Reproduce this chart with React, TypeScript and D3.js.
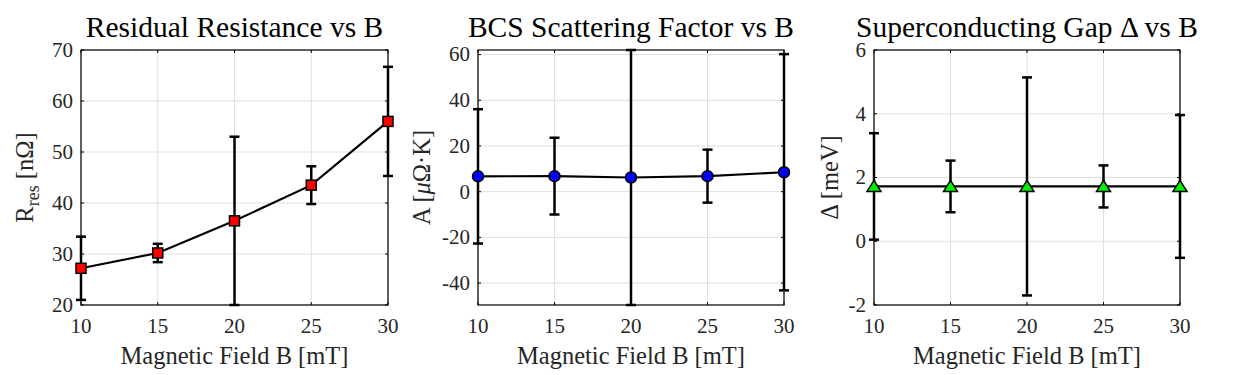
import React from 'react'
import * as d3 from 'd3'

// field values (x) and the three fitted quantities with their error bars
const fieldB = [10, 15, 20, 25, 30]
const xTicks = [10, 15, 20, 25, 30]

const rRes = [27.2, 30.2, 36.5, 43.5, 56.0]
const rResErr = [6.2, 1.8, 16.5, 3.7, 10.7]
const rResTicks = [20, 30, 40, 50, 60, 70]

const scatterA = [6.7, 6.8, 6.2, 6.8, 8.5]
const scatterAErr = [29.4, 16.8, 55.8, 11.6, 51.7]
const scatterATicks = [-40, -20, 0, 20, 40, 60]

const gapDelta = [1.72, 1.72, 1.72, 1.72, 1.72]
const gapDeltaErr = [1.67, 0.81, 3.42, 0.66, 2.24]
const gapTicks = [-2, 0, 2, 4, 6]

const FONT = '"Liberation Serif", "Times New Roman", serif'
const TOP = 50
const BOTTOM = 305

function Marker ({ kind, x, y }) {
  if (kind === 'square') {
    return <rect x={x - 5} y={y - 5} width={10} height={10} fill='#ff0000' stroke='#000' strokeWidth={1.5} />
  }
  if (kind === 'circle') {
    return <circle cx={x} cy={y} r={5.5} fill='#0000ff' stroke='#000' strokeWidth={1.5} />
  }
  const p = d3.path()
  p.moveTo(x, y - 6)
  p.lineTo(x + 7, y + 5)
  p.lineTo(x - 7, y + 5)
  p.closePath()
  return <path d={p.toString()} fill='#00ee00' stroke='#000' strokeWidth={1.5} />
}

function Panel ({ left, width, title, yLabel, labelX, values, errors, yDomain, yTicks, marker }) {
  const x = d3.scaleLinear().domain([10, 30]).range([left, left + width])
  const y = d3.scaleLinear().domain(yDomain).range([BOTTOM, TOP])
  const line = d3.line().x((d, i) => x(fieldB[i])).y(d => y(d))
  const right = left + width
  const cx = left + width / 2
  const cy = (TOP + BOTTOM) / 2

  return (
    <g fontFamily={FONT}>
      {/* grid */}
      {xTicks.map(t => (
        <line key={'gx' + t} x1={x(t)} x2={x(t)} y1={TOP} y2={BOTTOM} stroke='#dfdfdf' strokeWidth={1} />
      ))}
      {yTicks.map(t => (
        <line key={'gy' + t} x1={left} x2={right} y1={y(t)} y2={y(t)} stroke='#dfdfdf' strokeWidth={1} />
      ))}

      {/* box and inward ticks */}
      <rect x={left} y={TOP} width={width} height={BOTTOM - TOP} fill='none' stroke='#000' strokeWidth={1.2} />
      {xTicks.map(t => (
        <g key={'tx' + t}>
          <line x1={x(t)} x2={x(t)} y1={BOTTOM} y2={BOTTOM - 3} stroke='#000' />
          <line x1={x(t)} x2={x(t)} y1={TOP} y2={TOP + 3} stroke='#000' />
          <text x={x(t)} y={BOTTOM + 28} textAnchor='middle' fontSize={21} fill='#262626'>{t}</text>
        </g>
      ))}
      {yTicks.map(t => (
        <g key={'ty' + t}>
          <line x1={left} x2={left + 3} y1={y(t)} y2={y(t)} stroke='#000' />
          <line x1={right} x2={right - 3} y1={y(t)} y2={y(t)} stroke='#000' />
          <text x={left - 8} y={y(t)} dy='0.33em' textAnchor='end' fontSize={21} fill='#262626'>{t}</text>
        </g>
      ))}

      {/* data line, error bars, markers */}
      <path d={line(values)} fill='none' stroke='#000' strokeWidth={2.2} />
      {values.map((v, i) => {
        const px = x(fieldB[i])
        const hi = y(v + errors[i])
        const lo = y(v - errors[i])
        return (
          <g key={'e' + i} stroke='#000' strokeWidth={2.5}>
            <line x1={px} x2={px} y1={hi} y2={lo} />
            <line x1={px - 5} x2={px + 5} y1={hi} y2={hi} />
            <line x1={px - 5} x2={px + 5} y1={lo} y2={lo} />
          </g>
        )
      })}
      {values.map((v, i) => (
        <Marker key={'m' + i} kind={marker} x={x(fieldB[i])} y={y(v)} />
      ))}

      {/* text */}
      <text x={cx} y={37} textAnchor='middle' fontSize={29.5} fill='#000'>{title}</text>
      <text x={cx} y={BOTTOM + 59} textAnchor='middle' fontSize={24.5} fill='#262626'>Magnetic Field B [mT]</text>
      <text transform={`translate(${labelX},${cy}) rotate(-90)`} textAnchor='middle' fontSize={24.5} fill='#262626'>
        {yLabel}
      </text>
    </g>
  )
}

export default function App () {
  return (
    <svg width={1250} height={375} style={{ position: 'absolute', left: 0, top: 0, background: '#fff' }}>
      <rect width={1250} height={375} fill='#fff' />
      <Panel
        left={81} width={307}
        title='Residual Resistance vs B'
        yLabel={<>R<tspan dy={6} fontSize={18}>res</tspan><tspan dy={-6}> [nΩ]</tspan></>}
        labelX={33}
        values={rRes} errors={rResErr}
        yDomain={[20, 70]} yTicks={rResTicks}
        marker='square'
      />
      <Panel
        left={478} width={306}
        title='BCS Scattering Factor vs B'
        yLabel={<>A [<tspan fontStyle='italic'>μ</tspan>Ω·K]</>}
        labelX={430}
        values={scatterA} errors={scatterAErr}
        yDomain={[d3.min(scatterA, (v, i) => v - scatterAErr[i]), d3.max(scatterA, (v, i) => v + scatterAErr[i])]}
        yTicks={scatterATicks}
        marker='circle'
      />
      <Panel
        left={874} width={306}
        title='Superconducting Gap Δ vs B'
        yLabel='Δ [meV]'
        labelX={838}
        values={gapDelta} errors={gapDeltaErr}
        yDomain={[-2, 6]} yTicks={gapTicks}
        marker='triangle'
      />
    </svg>
  )
}
